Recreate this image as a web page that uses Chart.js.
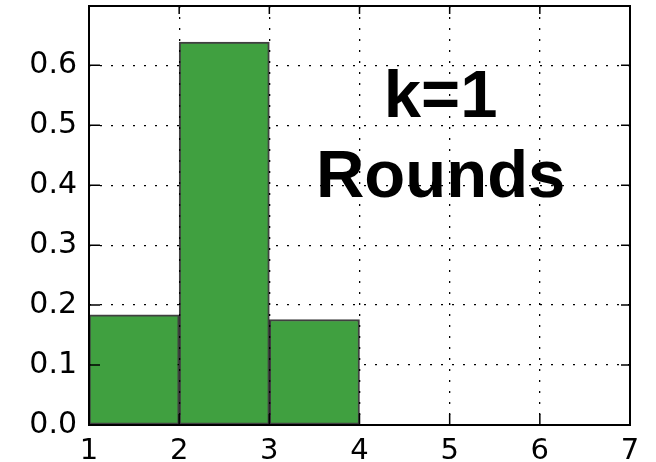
<!DOCTYPE html>
<html>
<head>
    <meta charset='utf-8'>
    <title>k=1 Rounds</title>
    <script src="https://cdn.jsdelivr.net/npm/chart.js@4/dist/chart.umd.min.js"></script>
    <style>
        body { margin: 0; background: #fff; }
        #wrap { width: 656px; height: 462px; }
    </style>
</head>
<body>
    <div id="wrap"><canvas id="myChart" width="656" height="462"></canvas></div>
    <script>
        // histogram bins (left edge, width 1) and their heights
        const binStarts = [1, 2, 3];
        const binValues = [0.184, 0.639, 0.176];
        const xTicks = [1, 2, 3, 4, 5, 6, 7];
        const yTicks = [0.0, 0.1, 0.2, 0.3, 0.4, 0.5, 0.6];
        const titleLines = ['k=1', 'Rounds'];

        const ctx = document.getElementById('myChart').getContext('2d');

        const points = binStarts.map((s, i) => ({ x: s + 0.5, y: binValues[i] }));

        // matplotlib-style inward ticks on all four sides + the big label
        const decor = {
            id: 'decor',
            afterDatasetsDraw(chart) {
                const c = chart.ctx;
                const xs = chart.scales.x;
                c.save();
                c.fillStyle = '#000';
                c.textAlign = 'center';
                c.textBaseline = 'alphabetic';
                c.font = 'bold 67px "Liberation Sans", Arial, sans-serif';
                const cx = xs.getPixelForValue(4.9);
                c.fillText(titleLines[0], cx, 117);
                c.fillText(titleLines[1], cx, 197);
                c.restore();
            },
            afterDraw(chart) {
                const c = chart.ctx;
                const a = chart.chartArea;
                const xs = chart.scales.x, ys = chart.scales.y;
                c.save();
                c.strokeStyle = '#000';
                c.lineWidth = 1.5;
                c.beginPath();
                xTicks.forEach(v => {
                    const px = xs.getPixelForValue(v);
                    c.moveTo(px, a.bottom); c.lineTo(px, a.bottom - 11);
                    c.moveTo(px, a.top); c.lineTo(px, a.top + 8);
                });
                yTicks.forEach(v => {
                    const py = ys.getPixelForValue(v);
                    c.moveTo(a.left, py); c.lineTo(a.left + 11, py);
                    c.moveTo(a.right, py); c.lineTo(a.right - 9, py);
                });
                c.stroke();
                c.lineWidth = 2;
                c.strokeRect(a.left, a.top, a.right - a.left, a.bottom - a.top);
                c.restore();
            }
        };

        const gridOpts = {
            color: '#000',
            lineWidth: 1.3,
            drawTicks: false,
            offset: false
        };

        const myChart = new Chart(ctx, {
            type: 'bar',
            data: {
                datasets: [{
                    data: points,
                    backgroundColor: 'rgb(64, 160, 64)',
                    borderColor: 'rgba(0, 0, 0, 0.75)',
                    borderWidth: 2,
                    borderSkipped: false,
                    barPercentage: 1,
                    categoryPercentage: 1
                }]
            },
            options: {
                responsive: false,
                animation: false,
                layout: { autoPadding: false, padding: { top: 6, right: 26, left: 0, bottom: 0 } },
                plugins: {
                    legend: { display: false },
                    tooltip: { enabled: false }
                },
                scales: {
                    x: {
                        type: 'linear',
                        min: 1,
                        max: 7,
                        z: 1,
                        offset: false,
                        afterFit(scale) {
                            scale.height = 37;
                            scale.paddingLeft = 0;
                            scale.paddingRight = 0;
                        },
                        afterBuildTicks(scale) { scale.ticks = xTicks.map(v => ({ value: v })); },
                        grid: gridOpts,
                        border: { display: false, dash: [2, 9] },
                        ticks: {
                            color: '#000',
                            padding: 9,
                            maxRotation: 0,
                            font: { family: '"DejaVu Sans"', size: 29 },
                            callback: v => String(v)
                        }
                    },
                    y: {
                        min: 0,
                        max: 0.699,
                        z: 1,
                        afterFit(scale) {
                            scale.width = 89;
                            scale.paddingTop = 0;
                            scale.paddingBottom = 0;
                        },
                        afterBuildTicks(scale) { scale.ticks = yTicks.map(v => ({ value: v })); },
                        grid: gridOpts,
                        border: { display: false, dash: [2, 9] },
                        ticks: {
                            color: '#000',
                            padding: 12,
                            font: { family: '"DejaVu Sans"', size: 30 },
                            callback: v => v.toFixed(1)
                        }
                    }
                }
            },
            plugins: [decor]
        });
    </script>
</body>
</html>
